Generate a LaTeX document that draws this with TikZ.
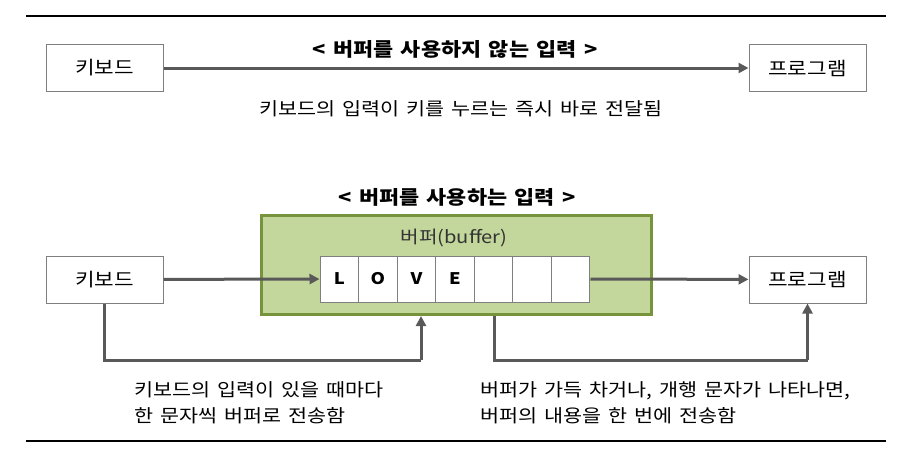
\documentclass[tikz,border=0pt]{standalone}
\usepackage{fontspec}
\setmainfont[FakeStretch=1.15, WordSpace=1.5]{Noto Sans CJK KR}
\usetikzlibrary{arrows.meta}
\definecolor{arrowgray}{HTML}{595959}
\definecolor{boxgray}{HTML}{7F7F7F}
\definecolor{greenfill}{HTML}{C3D69B}
\definecolor{greenline}{HTML}{77933C}
\tikzset{
  plainbox/.style={draw=boxgray, line width=1pt, fill=white, minimum width=117pt, minimum height=47pt, inner sep=0pt, font=\fontsize{18.5}{20}\selectfont},
  flow/.style={draw=arrowgray, line width=3pt, -{Triangle[length=10pt,width=10pt]}},
  flowline/.style={draw=arrowgray, line width=3pt},
  cell/.style={draw=boxgray, line width=1pt, fill=white, minimum width=38.57pt, minimum height=46pt, inner sep=0pt, font=\fontsize{16}{18}\selectfont\bfseries},
  title/.style={font=\fontsize{19}{20}\selectfont\bfseries},
  body/.style={font=\fontsize{18}{26}\selectfont, align=left},
  rule/.style={draw=black, line width=1.5pt}
}
\begin{document}
\begin{tikzpicture}[x=1pt, y=-1pt]
\useasboundingbox (0,0) rectangle (904,463);
% rules
\coordinate (r1a) at (26,16); \coordinate (r1b) at (886,16);
\coordinate (r2a) at (26,441); \coordinate (r2b) at (886,441);
\draw[rule] (r1a) -- (r1b);
\draw[rule] (r2a) -- (r2b);
% top section
\node[title] (t1) at (455,49) {< 버퍼를 사용하지 않는 입력 >};
\node[plainbox] (kb1) at (104.5,68) {키보드};
\node[plainbox] (pg1) at (807.5,68) {프로그램};
\draw[flow] (kb1) -- (pg1);
\node[font=\fontsize{18}{20}\selectfont] (d1) at (461,109) {키보드의 입력이 키를 누르는 즉시 바로 전달됨};
% bottom section
\node[title] (t2) at (457,197) {< 버퍼를 사용하는 입력 >};
\node[draw=greenline, fill=greenfill, line width=3pt, minimum width=390pt, minimum height=99pt, inner sep=0pt] (buf) at (456.5,265) {};
\node[font=\fontsize{17.5}{20}\selectfont, text=black!80] (bl) at (454,238) {버퍼(buffer)};
\foreach \i/\t in {0/L,1/O,2/V,3/E,4/{},5/{},6/{}} {
  \node[cell] (c\i) at ({320+38.57*\i+19.285},279) {\t};
}
\node[plainbox] (kb2) at (104.5,279.5) {키보드};
\node[plainbox] (pg2) at (807.5,279.5) {프로그램};
\draw[flow] (kb2) -- (c0);
\draw[flow] (c6) -- (pg2);
% elbow connectors
\coordinate (e1) at (kb2.south |- 0,360);
\coordinate (e2) at (421,360);
\draw[flowline] (kb2.south) -- (e1) -- (e2);
\draw[flow] (e2) -- (e2 |- buf.south);
\coordinate (f1) at (494,360);
\coordinate (f2) at (pg2.south |- f1);
\draw[flowline] (f1 |- buf.south) -- (f1) -- (f2);
\draw[flow] (f2) -- (pg2.south);
% descriptions
\node[body, anchor=west] (d2) at (131,403) {키보드의 입력이 있을 때마다\\한 문자씩 버퍼로 전송함};
\node[body, anchor=west] (d3) at (477,403) {버퍼가 가득 차거나, 개행 문자가 나타나면,\\버퍼의 내용을 한 번에 전송함};
\end{tikzpicture}
\end{document}
